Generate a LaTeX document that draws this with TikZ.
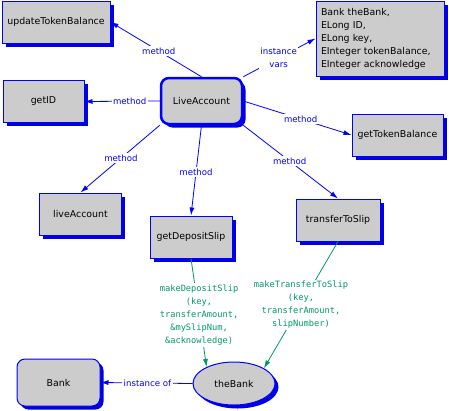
\documentclass[tikz,border=0pt]{standalone}
\usepackage{fontspec}
\setmainfont{DejaVu Sans}
\setmonofont{DejaVu Sans Mono}
\usetikzlibrary{arrows.meta,shadows,shapes.geometric}
\definecolor{boxgray}{HTML}{CCCCCC}
\definecolor{edgeblue}{HTML}{0000FF}
\definecolor{shadeblue}{HTML}{0000E0}
\definecolor{msggreen}{HTML}{009966}

\tikzset{
  account/.style={
    x=1pt, y=-1pt,
    every node/.style={font=\fontsize{9.4}{13}\selectfont, text=black},
    box/.style={
        draw=edgeblue,
        fill=boxgray,
        line width=1pt,
        minimum height=42pt,
        general shadow={fill=shadeblue, shadow xshift=3.5pt, shadow yshift=-3.5pt},
    },
    round box/.style={
        box,
        rounded corners=8pt,
    },
    oval/.style={
        box,
        shape=ellipse,
        inner sep=0pt,
    },
    tag/.style={fill=white, inner sep=1.5pt, text=edgeblue, align=center, font=\fontsize{8.6}{13}\selectfont},
    call/.style={fill=white, inner sep=1.5pt, text=msggreen, align=center, font=\ttfamily\fontsize{8.7}{13}\selectfont},
    link/.style={draw=edgeblue, line width=0.8pt, -{Latex[length=8pt,width=5pt]}},
    msg/.style={draw=msggreen, line width=0.8pt, -{Latex[length=8pt,width=5pt]}}
  }
}

\begin{document}
\begin{tikzpicture}[account]
            \useasboundingbox (0,0) rectangle (449,410);
            \node[box, minimum width=108pt] (upd) at (56,22) {updateTokenBalance};
            \node[box, minimum width=81pt] (getid) at (43.5,101.5) {getID};
            \node[round box, line width=2.5pt, minimum width=81pt, minimum height=46pt] (live) at (201.5,101) {LiveAccount};
            \node[box, minimum width=128pt, minimum height=75pt, align=left, text width=118pt] (vars) at (380,38.5)
                {Bank theBank,\\ELong ID,\\ELong key,\\EInteger tokenBalance,\\EInteger acknowledge};
            \node[box, minimum width=91pt] (gettb) at (397.5,135) {getTokenBalance};
            \node[box, minimum width=82pt] (liveacc) at (80.5,214) {liveAccount};
            \node[box, minimum width=82pt] (getdep) at (191,237) {getDepositSlip};
            \node[box, minimum width=84pt] (transf) at (338,220) {transferToSlip};
            \node[round box, minimum width=83pt, minimum height=47pt] (bank) at (58.5,382.5) {Bank};
            \node[oval, minimum width=82pt, minimum height=43pt] (thebank) at (234,383.5) {theBank};

            \draw[link] (live.north) -- node[tag, pos=0.47] {method} (upd.east);
            \draw[link] (live.west) -- node[tag, pos=0.4] {method} (getid.east);
            \draw[link] (live.north east) -- node[tag, pos=0.49] {instance\\vars} (vars.west);
            \draw[link] (live.east) -- node[tag, pos=0.53] {method} (gettb.west);
            \draw[link] (live.south west) -- node[tag, pos=0.49] {method} (liveacc.north);
            \draw[link] (live.south) -- node[tag, pos=0.52] {method} (getdep.north);
            \draw[link] (live.south east) -- node[tag, pos=0.49] {method} (transf.north);
            \draw[msg] (getdep.south) -- node[call, pos=0.52]
                {makeDepositSlip\\(key,\\transferAmount,\\\&mySlipNum,\\\&acknowledge)} (thebank.149);
            \draw[msg] (transf.south) -- node[call]
                {makeTransferToSlip\\(key,\\transferAmount,\\slipNumber)} (thebank.27);
            \draw[link] (thebank.west) -- node[tag, pos=0.49] {instance of} (bank.east);
        \end{tikzpicture}
\end{document}
